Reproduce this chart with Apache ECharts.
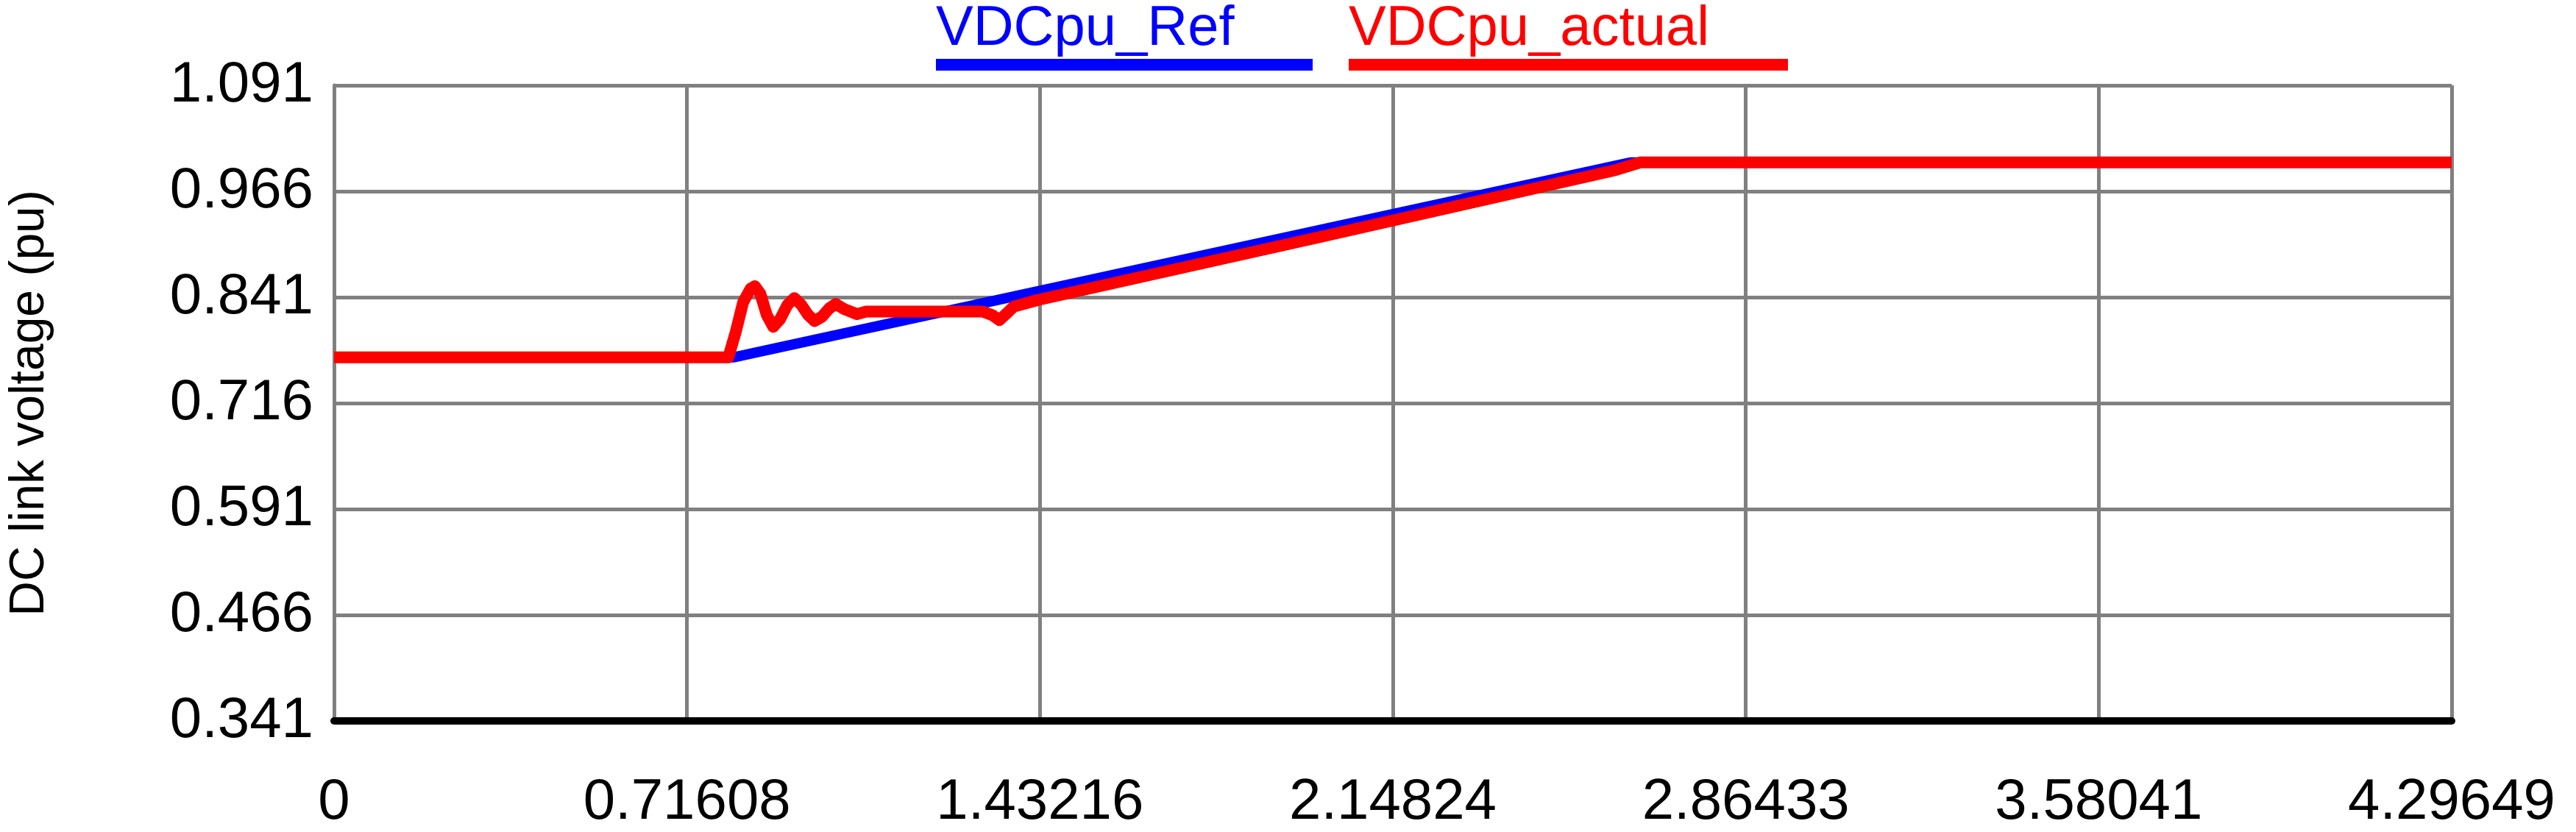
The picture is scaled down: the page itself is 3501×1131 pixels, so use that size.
<!DOCTYPE html>
<html>
<head>
<meta charset="utf-8">
<script src="https://cdn.jsdelivr.net/npm/echarts@6/dist/echarts.min.js"></script>
<style>html,body{margin:0;padding:0;background:#fff}#chart{width:3501px;height:1131px}</style>
</head>
<body>
<div id="chart"></div>
<script>
// 刻度
var xStep = 0.716082
var xTicks = ['0', '0.71608', '1.43216', '2.14824', '2.86433', '3.58041', '4.29649']
var yTicks = ['0.341', '0.466', '0.591', '0.716', '0.841', '0.966', '1.091']

// 参考电压
var refX = [0, 0.81, 2.63, 4.29649]
var refY = [0.770, 0.770, 1.000, 1.000]

// 实际电压
var actX = [0, 0.80, 0.815, 0.83, 0.845, 0.854, 0.865, 0.878, 0.891, 0.905, 0.92, 0.934, 0.948, 0.962, 0.975, 0.99, 1.005, 1.018, 1.035, 1.061, 1.08, 1.316, 1.335, 1.350, 1.365, 1.379, 1.43, 2.00, 2.60, 2.65, 4.29649]
var actY = [0.770, 0.770, 0.800, 0.835, 0.851, 0.854, 0.845, 0.820, 0.806, 0.815, 0.832, 0.840, 0.832, 0.820, 0.813, 0.818, 0.828, 0.833, 0.827, 0.821, 0.824, 0.824, 0.820, 0.814, 0.822, 0.830, 0.838, 0.912, 0.991, 1.000, 1.000]

function pairs(xs, ys) {
    return xs.map(function (x, i) { return [x, ys[i]] })
}

var myChart = echarts.init(document.getElementById('chart'))

var labelFont = { fontFamily: 'Liberation Sans', fontSize: 78, color: '#000' }

myChart.setOption({
    animation: false,
    grid: { left: 426, right: 169, top: 116, bottom: 151 },
    graphic: [
        { type: 'text', left: 1272, top: 2, style: { text: 'VDCpu_Ref', fill: '#0000ff', font: '76px "Liberation Sans"' } },
        { type: 'rect', shape: { x: 1272, y: 80, width: 512, height: 16 }, style: { fill: '#0000ff' } },
        { type: 'text', left: 1833, top: 2, style: { text: 'VDCpu_actual', fill: '#ff0000', font: '76px "Liberation Sans"' } },
        { type: 'rect', shape: { x: 1833, y: 80, width: 597, height: 16 }, style: { fill: '#ff0000' } }
    ],
    xAxis: {
        type: 'value',
        min: 0,
        max: 4.29649,
        interval: xStep,
        axisLine: { show: true, lineStyle: { color: '#000', width: 10 } },
        axisTick: { show: false },
        axisLabel: Object.assign({
            margin: 72,
            showMaxLabel: true,
            formatter: function (v) { return xTicks[Math.round(v / xStep)] }
        }, labelFont),
        splitLine: { show: true, lineStyle: { color: '#808080', width: 5 } }
    },
    yAxis: {
        type: 'value',
        min: 0.341,
        max: 1.091,
        interval: 0.125,
        name: 'DC link voltage (pu)',
        nameLocation: 'middle',
        nameGap: 380,
        nameTextStyle: { fontFamily: 'Liberation Sans', fontSize: 66, color: '#000' },
        axisLine: { show: true, lineStyle: { color: '#808080', width: 5 } },
        axisTick: { show: false },
        axisLabel: Object.assign({
            margin: 28,
            formatter: function (v) { return yTicks[Math.round((v - 0.341) / 0.125)] }
        }, labelFont),
        splitLine: { show: true, lineStyle: { color: '#808080', width: 5 } }
    },
    series: [
        {
            type: 'line', name: 'VDCpu_Ref', symbol: 'none',
            lineStyle: { color: '#0000ff', width: 14 },
            data: pairs(refX, refY)
        },
        {
            type: 'line', name: 'VDCpu_actual', symbol: 'none',
            lineStyle: { color: '#ff0000', width: 16, join: 'round' },
            data: pairs(actX, actY)
        }
    ]
})
</script>
</body>
</html>
